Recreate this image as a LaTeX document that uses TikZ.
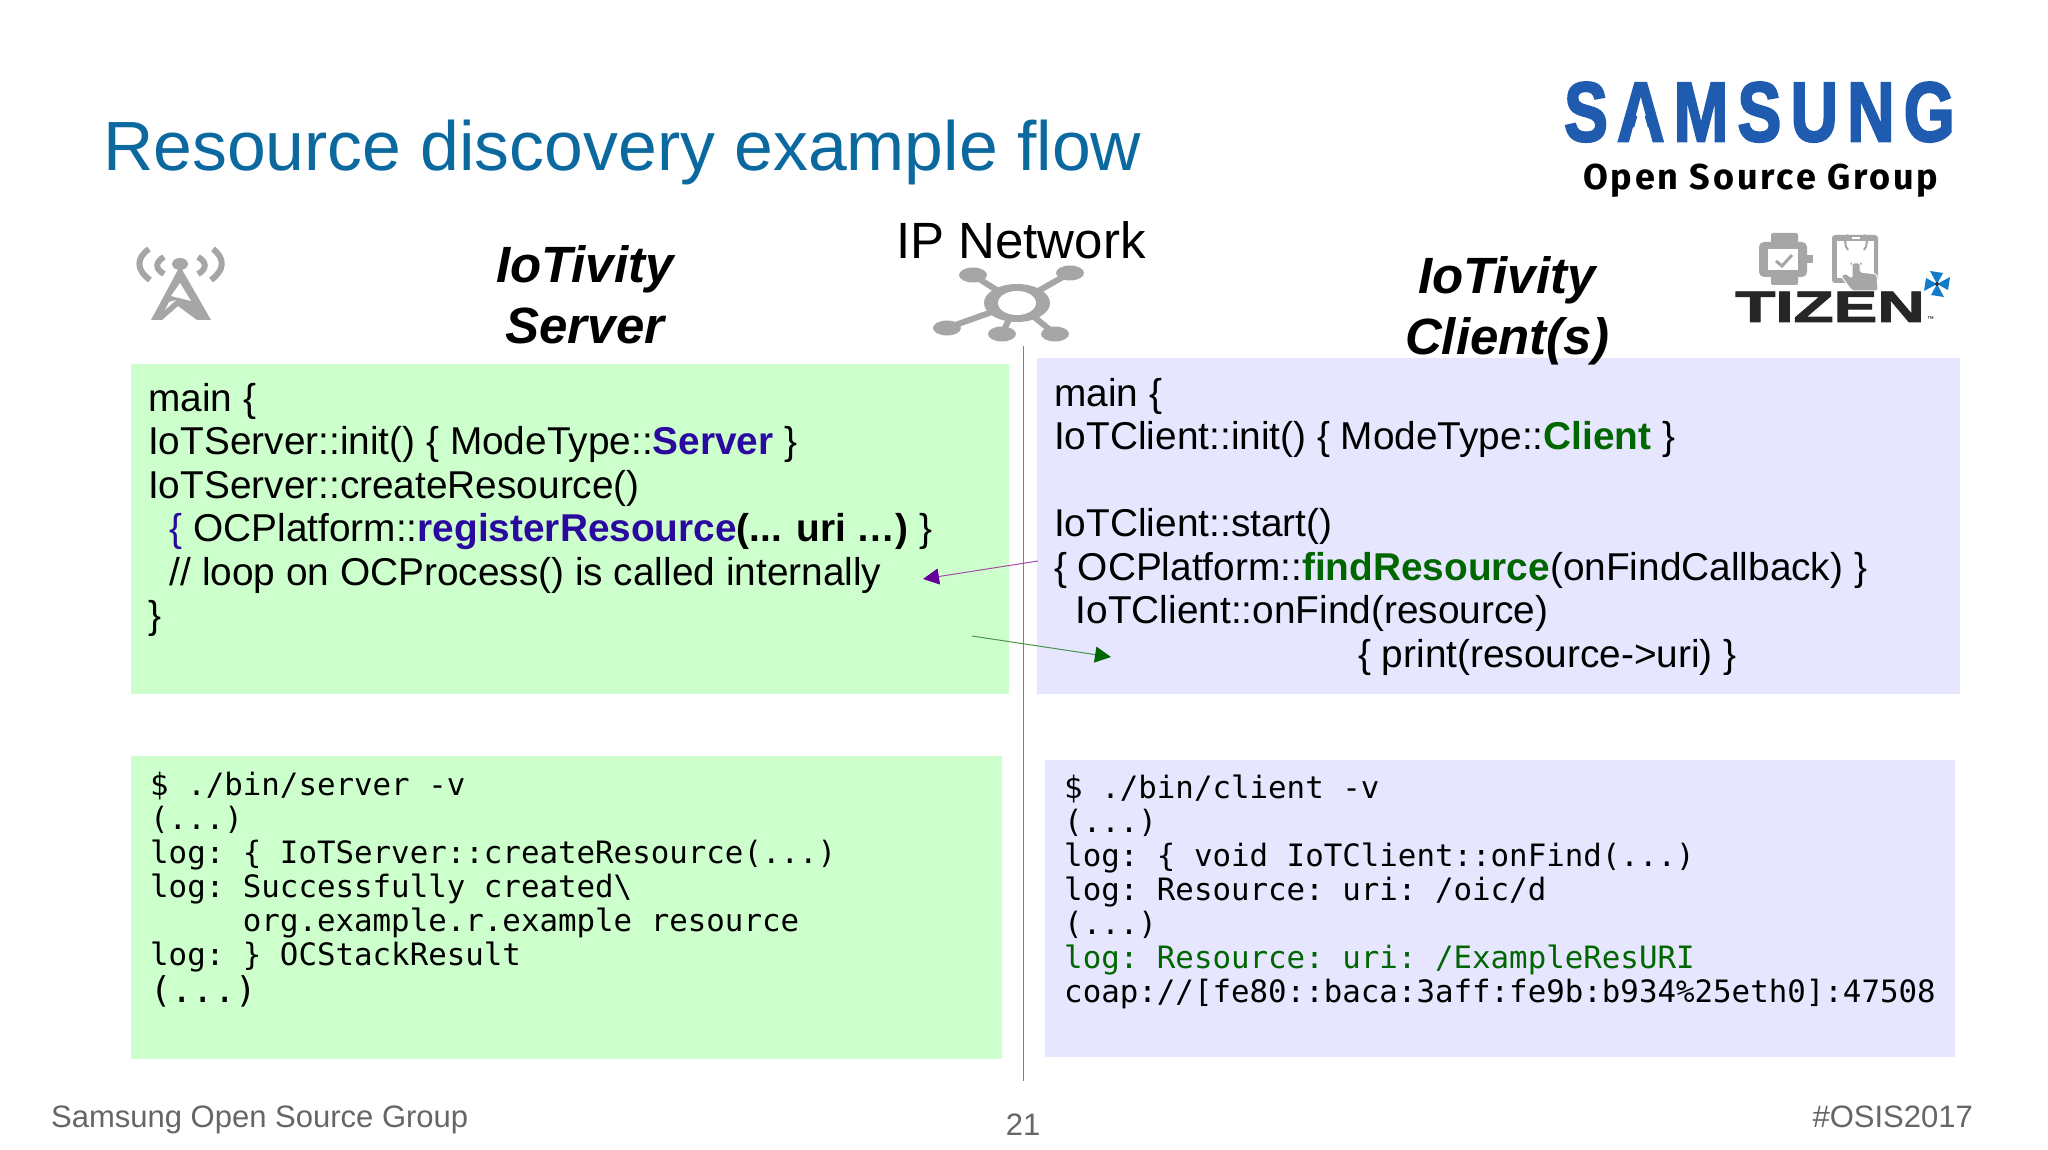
\documentclass[tikz,border=0pt]{standalone}
\usepackage{fontspec}
\usetikzlibrary{arrows.meta}
\setmainfont{Liberation Sans}
\setmonofont{DejaVu Sans Mono}
\newfontfamily\logofont[LetterSpace=14.2,BoldFeatures={FakeBold=3}]{Liberation Sans}
\newfontfamily\tizenfont[BoldFeatures={FakeBold=2}]{Liberation Sans}
\newfontfamily\groupfont[LetterSpace=7.8]{Fira Sans}
\definecolor{titleblue}{HTML}{0B69A0}
\definecolor{serverbox}{HTML}{CCFFCC}
\definecolor{clientbox}{HTML}{E6E6FF}
\definecolor{servertext}{HTML}{2A0A9E}
\definecolor{clienttext}{HTML}{006600}
\definecolor{icongray}{HTML}{A6A6A6}
\definecolor{samsungblue}{HTML}{1F5CB0}
\tikzset{
    headtext/.style={font=\fontsize{51}{61}\selectfont\bfseries\itshape, align=center},
    bodytext/.style={anchor=north west, align=left, inner sep=0pt, font=\fontsize{38.8}{43.5}\selectfont},
    logtext/.style={anchor=north west, align=left, inner sep=0pt, font=\fontsize{30.8}{34}\ttfamily\selectfont},
    foottext/.style={text=black!60, font=\fontsize{31}{38}\selectfont},
    iconline/.style={draw=icongray, line width=6pt},
    spoke/.style={draw=icongray, line width=6pt}
}
\begin{document}
\begin{tikzpicture}[x=1pt, y=-1pt]
    \useasboundingbox (0,0) rectangle (2048,1150);
    \fill[white] (0,0) rectangle (2048,1150);

    \node[anchor=base west, inner sep=0pt, text=titleblue, font=\fontsize{69.7}{80}\selectfont] (title) at (103,171) {Resource discovery example flow};

    % logo
    \node[anchor=base west, inner sep=0pt, text=samsungblue, xscale=0.78, font=\fontsize{84}{90}\logofont\bfseries\selectfont] (samsung) at (1564,141) {SAMSUNG};
    \fill[white] (1630,143) -- (1641,103) -- (1652,143) -- cycle;
    \node[anchor=base west, inner sep=0pt, font=\fontsize{36}{40}\groupfont\bfseries\selectfont] (group) at (1583,190) {Open Source Group};

    % boxes
    \fill[serverbox] (131,364) rectangle (1009,694);
    \fill[clientbox] (1037,358) rectangle (1960,694);
    \fill[serverbox] (131,756) rectangle (1002,1059);
    \fill[clientbox] (1045,760) rectangle (1955,1057);
    \draw[black!50, line width=1pt] (1023.5,346) -- (1023.5,1081);

    \node[headtext] (server) at (585,295) {IoTivity\\Server};
    \node[headtext] (client) at (1507,311) {IoTivity\\Client(s)};
    \node[anchor=base, inner sep=0pt, font=\fontsize{51}{61}\selectfont] (net) at (1021,259) {IP Network};

    % antenna
    \fill[icongray] (180,264) ellipse (8 and 6);
    \draw[iconline] (149,249) .. controls (136,258) and (136,270) .. (150,280);
    \draw[iconline] (213,249) .. controls (225,258) and (225,270) .. (211,280);
    \draw[iconline] (164,257) .. controls (155,262) and (155,269) .. (164,274);
    \draw[iconline] (198,257) .. controls (207,262) and (207,269) .. (198,274);
    \fill[icongray] (180,266) -- (211,320) -- (197,320) -- (178,306) -- (162,320) -- (151,320) -- cycle;
    \fill[white] (180,283) -- (171,296) -- (191,301) -- cycle;
    \fill[white] (169,302) -- (176,300) -- (165,310) -- cycle;

    % network hub
    \foreach \sx/\sy in {973/275, 1070/273, 947/328, 1002/334, 1055/334} {
        \draw[spoke] (1017,303) -- (\sx,\sy);
        \fill[icongray] (\sx,\sy) ellipse (14 and 7.5);
    }
    \fill[icongray] (1017,303) ellipse (33 and 19);
    \fill[white] (1017,303) ellipse (19 and 12);

    % watch and tablet
    \fill[icongray, rounded corners=2pt] (1771,233) rectangle (1798,285);
    \fill[icongray, rounded corners=5pt] (1759,242) rectangle (1807,277);
    \fill[icongray] (1807,255) rectangle (1813,263);
    \fill[white] (1768,249) rectangle (1798,270);
    \draw[icongray, line width=3pt] (1776,261) -- (1782,266) -- (1792,255);
    \fill[icongray, rounded corners=3pt] (1832,235) rectangle (1878,283);
    \fill[white] (1837,241) rectangle (1874,278);
    \fill[white] (1852,237) rectangle (1860,239);
    \draw[icongray, line width=2pt] (1848,250) arc[start angle=220, end angle=140, radius=12pt];
    \draw[icongray, line width=2pt] (1864,250) arc[start angle=-40, end angle=40, radius=12pt];
    \draw[icongray, line width=2pt] (1851,263) arc[start angle=210, end angle=330, radius=6pt];
    \fill[icongray, draw=white, line width=1pt, rounded corners=2pt] (1852,263) -- (1860,263) -- (1860,272) -- (1877,274) -- (1878,291) -- (1852,291) -- (1841,276) -- (1845,273) -- (1852,278) -- cycle;

    % tizen
    \node[anchor=base west, inner sep=0pt, text=black!85, xscale=1.49, font=\fontsize{44}{46}\tizenfont\bfseries\selectfont] (tizen) at (1735,322) {TIZEN};
    \node[anchor=base west, inner sep=0pt, font=\fontsize{7}{8}\selectfont] (tm) at (1927,322) {™};
    \foreach \a in {0,90,180,270} {
        \fill[cyan!60!blue, rotate around={\a:(1937,284)}] (1937,284) -- (1950,277) -- (1948,290) -- cycle;
    }
    \fill[black!80] (1937,284) circle (2);

    % texts in boxes
    \node[bodytext] (servermain) at (148,383) {main \{\\
IoTServer::init() \{ ModeType::\textcolor{servertext}{\bfseries Server} \}\\
IoTServer::createResource()\\
\ \ \textcolor{servertext}{\{} OCPlatform::\textcolor{servertext}{\bfseries registerResource}{\bfseries(... uri …)} \}\\
\ \ // loop on OCProcess() is called internally\\
\}};
    \node[bodytext] (clientmain) at (1054,378) {main \{\\
IoTClient::init() \{ ModeType::\textcolor{clienttext}{\bfseries Client} \}\\[43.5pt]
IoTClient::start()\\
\{ OCPlatform::\textcolor{clienttext}{\bfseries findResource}(onFindCallback) \}\\
\ \ IoTClient::onFind(resource)\\
\hspace{304pt}\{ print(resource->uri) \}};

    \node[logtext] (serverlog) at (150,772) {\$ ./bin/server -v\\
(...)\\
log: \{ IoTServer::createResource(...)\\
log: Successfully created\textbackslash\\
\ \ \ \ \ org.example.r.example resource\\
log: \} OCStackResult\\[3pt]
{\fontsize{35.5}{36}\selectfont(...)}};
    \node[logtext] (clientlog) at (1064,775) {\$ ./bin/client -v\\
(...)\\
log: \{ void IoTClient::onFind(...)\\
log: Resource: uri: /oic/d\\
(...)\\
\textcolor{clienttext}{log: Resource: uri: /ExampleResURI}\\
coap://[fe80::baca:3aff:fe9b:b934\%25eth0]:47508};

    % flow arrows
    \coordinate (discoverfrom) at (1038,561);
    \coordinate (discoverto) at (923,579);
    \coordinate (replyfrom) at (972,636);
    \coordinate (replyto) at (1111,657);
    \draw[-{Triangle[length=16pt, width=16pt, color=violet!80!blue]}, violet!70!white, line width=1pt] (discoverfrom) -- (discoverto);
    \draw[-{Triangle[length=16pt, width=16pt, color=clienttext]}, clienttext!70!white, line width=1pt] (replyfrom) -- (replyto);

    % footer
    \node[foottext, anchor=base west, inner sep=0pt] (footleft) at (51,1127) {Samsung Open Source Group};
    \node[foottext, anchor=base, inner sep=0pt] (footnum) at (1023,1135) {21};
    \node[foottext, anchor=base east, inner sep=0pt] (footright) at (1973,1127) {\#OSIS2017};
\end{tikzpicture}
\end{document}
